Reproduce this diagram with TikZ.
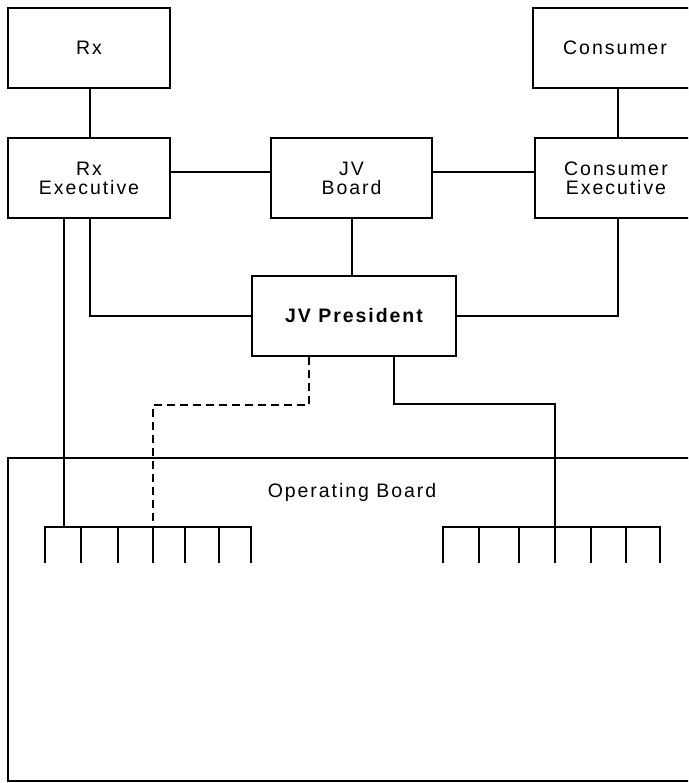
\documentclass[tikz,border=0pt]{standalone}
\usepackage{fontspec}
\newfontfamily\chartfont[LetterSpace=10]{Liberation Sans}
\usetikzlibrary{calc}
\tikzset{
  orgbox/.style={draw, line width=2pt, rectangle, minimum height=80pt, inner sep=0pt,
    align=center, font=\chartfont\fontsize{19.5}{19}\selectfont},
  link/.style={line width=2pt},
  dotlink/.style={line width=1.5pt, dash pattern=on 8pt off 5pt},
  label/.style={font=\chartfont\fontsize{19.5}{19}\selectfont, inner sep=0pt}
}
\begin{document}
\begin{tikzpicture}[x=1pt, y=-1pt]
\useasboundingbox (0,0) rectangle (688,783);
\clip (0,0) rectangle (688,783);
\fill[white] (0,0) rectangle (688,783);

% Executive level boxes
\node[orgbox, minimum width=162pt] (rx)   at (89,48)  {Rx};
\node[orgbox, minimum width=162pt] (rxex) at (89,178.5) {Rx\\Executive};
\node[orgbox, minimum width=161pt] (jvb)  at (351.5,178.5) {JV\\Board};
\node[orgbox, minimum width=164pt] (cons) at (615,48) {Consumer};
\node[orgbox, minimum width=162pt] (cex)  at (616,178.5) {Consumer\\Executive};
\node[orgbox, minimum width=204pt, font=\chartfont\fontsize{19.5}{19}\selectfont\bfseries] (jvp) at (354,316) {JV President};

% Operating board frame and its title
\draw[line width=2pt] (8,458) rectangle (700,781);
\node[label] (ob) at (352,492) {Operating Board};

% Comb attachment points
\coordinate (cl) at (64,527);
\coordinate (cld) at (153,527);
\coordinate (cr) at (555,527);

% Connectors between the upper boxes
\draw[link] (rx.south -| 90,0) -- (rxex.north -| 90,0);
\draw[link] (cons.south -| 618,0) -- (cex.north -| 618,0);
\draw[link] (rxex.east |- 0,172) -- (jvb.west |- 0,172);
\draw[link] (jvb.east |- 0,172) -- (cex.west |- 0,172);
\draw[link] (jvb.south) -- (jvp.north -| jvb.south);
\draw[link] (rxex.south -| 90,0) |- (jvp.west);
\draw[link] (cex.south -| 618,0) |- (jvp.east);

% Lines down to the two combs
\draw[link] (rxex.south -| cl) -- (cl);
\draw[dotlink] (jvp.south -| 309,0) |- (153,405) -- (cld);
\draw[link] (jvp.south -| 394,0) |- (555,404) -- (cr);

% Left comb
\draw[link] (45,527) -- (251,527);
\foreach \x in {45,81,118,153,185,219,251}
  \draw[link] (\x,526) -- (\x,563);
% Right comb
\draw[link] (443,527) -- (660,527);
\foreach \x in {443,479,519,555,591,626,660}
  \draw[link] (\x,526) -- (\x,563);
\end{tikzpicture}
\end{document}
